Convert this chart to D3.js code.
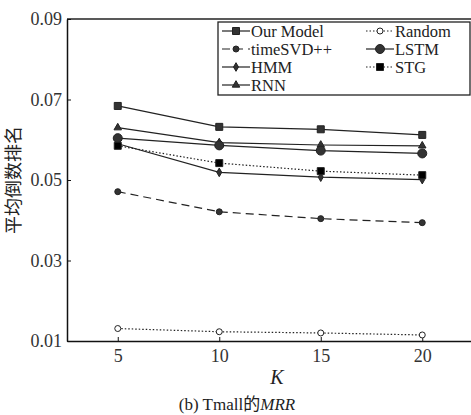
<!DOCTYPE html>
<html><head><meta charset="utf-8">
<script src="https://cdn.jsdelivr.net/npm/d3@7"></script>
<style>body{margin:0;background:#fff}svg{display:block}</style>
</head><body>
<svg id="c" width="471" height="415"></svg>
<script>
const kValues = [5, 10, 15, 20];
const yTicks = [0.01, 0.03, 0.05, 0.07, 0.09];
const seriesNames = ["Our Model", "timeSVD++", "HMM", "RNN", "Random", "LSTM", "STG"];
const ourModel = [0.0684, 0.0632, 0.0626, 0.0612];
const timeSVD = [0.0471, 0.0421, 0.0404, 0.0394];
const hmm = [0.0590, 0.0519, 0.0507, 0.0501];
const rnn = [0.0630, 0.0593, 0.0587, 0.0585];
const random = [0.0131, 0.0123, 0.0120, 0.0115];
const lstm = [0.0604, 0.0586, 0.0573, 0.0566];
const stg = [0.0585, 0.0542, 0.0522, 0.0512];

const seriesValues = [ourModel, timeSVD, hmm, rnn, random, lstm, stg];
const styles = [
  {marker:"square", size:7, fill:"#333", dash:null},
  {marker:"circle", size:6, fill:"#333", dash:"8,5"},
  {marker:"diamond", size:6, fill:"#333", dash:null},
  {marker:"triangle", size:7, fill:"#333", dash:null},
  {marker:"circle", size:6, fill:"#fff", dash:"1.5,2"},
  {marker:"circle", size:9, fill:"#333", dash:null},
  {marker:"square", size:7, fill:"#000", dash:"1.5,2"}
];

const svg = d3.select("#c");
const x = d3.scaleLinear().domain([2.5, 22.5]).range([67, 473]);
const y = d3.scaleLinear().domain([0.01, 0.09]).range([341, 19]);
const serif = "'Liberation Serif', 'DejaVu Serif', serif";

svg.append("line").attr("x1",67).attr("x2",471).attr("y1",19).attr("y2",19).attr("stroke","#222").attr("stroke-width",1.3);

const yAxis = d3.axisLeft(y).tickValues(yTicks).tickFormat(d3.format(".2f")).tickSizeInner(-4).tickSizeOuter(0).tickPadding(5);
const gy = svg.append("g").attr("transform","translate(67,0)").call(yAxis);
gy.selectAll("text").attr("font-family",serif).attr("font-size",18).attr("fill","#333");
gy.select(".domain").attr("stroke","#111").attr("stroke-width",1.5);
gy.selectAll(".tick line").attr("stroke","#111");

const xAxis = d3.axisBottom(x).tickValues(kValues).tickSizeInner(-4).tickSizeOuter(0).tickPadding(8);
const gx = svg.append("g").attr("transform","translate(0,341)").call(xAxis);
gx.selectAll("text").attr("font-family",serif).attr("font-size",18).attr("fill","#333");
gx.select(".domain").attr("stroke","#111").attr("stroke-width",1.5);
gx.selectAll(".tick line").attr("stroke","#111");

function symbolFor(s){
  const t = {square:d3.symbolSquare, circle:d3.symbolCircle, diamond:d3.symbolDiamond, triangle:d3.symbolTriangle}[s.marker];
  let area;
  if (s.marker==="square") area = s.size*s.size;
  else if (s.marker==="circle") area = Math.PI*(s.size/2)*(s.size/2);
  else if (s.marker==="diamond") area = s.size*s.size*0.6;
  else area = s.size*s.size*0.5;
  return d3.symbol().type(t).size(area)();
}

const line = d3.line().x((d,i)=>x(kValues[i])).y(d=>y(d));
seriesValues.forEach((vals,si)=>{
  const s = styles[si];
  svg.append("path").attr("d",line(vals)).attr("fill","none").attr("stroke","#222")
    .attr("stroke-width",1.2).attr("stroke-dasharray",s.dash);
  svg.selectAll(null).data(vals).enter().append("path")
    .attr("d",symbolFor(s))
    .attr("transform",(d,i)=>`translate(${x(kValues[i])},${y(d)})`)
    .attr("fill",s.fill).attr("stroke","#222").attr("stroke-width",1);
});

const lg = svg.append("g");
lg.append("rect").attr("x",218).attr("y",22).attr("width",252).attr("height",73)
  .attr("fill","#fff").attr("stroke","#222").attr("stroke-width",1.3);
const legendPos = [
  [222,31],[222,49],[222,67],[222,85],[366,31],[366,49],[366,67]
];
seriesNames.forEach((name,i)=>{
  const [lx,ly] = legendPos[i];
  const s = styles[i];
  lg.append("line").attr("x1",lx).attr("x2",lx+28).attr("y1",ly).attr("y2",ly)
    .attr("stroke","#222").attr("stroke-width",1.2).attr("stroke-dasharray",s.dash);
  lg.append("path").attr("d",symbolFor(s)).attr("transform",`translate(${lx+14},${ly})`)
    .attr("fill",s.fill).attr("stroke","#222").attr("stroke-width",1);
  lg.append("text").attr("x",lx+29).attr("y",ly+5.5).text(name)
    .attr("font-family",serif).attr("font-size",16.5).attr("fill","#222");
});

svg.append("text").attr("x",277).attr("y",384).attr("text-anchor","middle")
  .attr("font-family",serif).attr("font-style","italic").attr("font-size",20).attr("fill","#222").text("K");
svg.append("text").attr("transform","translate(20,180) rotate(-90)").attr("text-anchor","middle")
  .attr("font-family","'Noto Sans CJK SC', sans-serif").attr("font-size",18).attr("fill","#222").text("平均倒数排名");
const cap = svg.append("text").attr("x",237).attr("y",410).attr("text-anchor","middle")
  .attr("font-family",serif).attr("font-size",17).attr("fill","#222");
cap.append("tspan").text("(b) Tmall");
cap.append("tspan").attr("font-family","'Noto Sans CJK SC', sans-serif").text("的");
cap.append("tspan").attr("font-style","italic").text("MRR");
</script>
</body></html>
